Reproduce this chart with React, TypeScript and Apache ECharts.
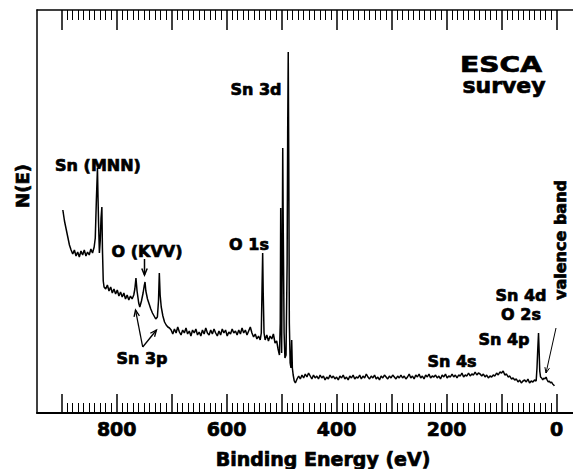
import React, { useEffect, useRef } from "react";
import * as echarts from "echarts";

// Binding energy (eV), intensity N(E) (arbitrary units)
const spectrum: [number, number][] = [
  [898, 203], [895, 192], [892, 184], [889, 176], [886, 168], [883, 163], [880, 159], [877, 163], [874, 157], [871, 161],
  [868, 156], [865, 162], [862, 158], [859, 163], [856, 157], [853, 161], [850, 158], [847, 164], [844, 160], [841, 166],
  [839, 175], [837, 213], [835, 245], [834, 215], [833, 190], [831.5, 160], [830, 172], [828.5, 195], [827, 206], [826, 165],
  [824.5, 132], [823, 126], [820, 124], [817, 128], [814, 122], [811, 126], [808, 120], [805, 124], [802, 119], [799, 123],
  [796, 117], [793, 121], [790, 116], [787, 120], [784, 114], [781, 118], [778, 113], [775, 117], [772, 114],
  [769, 118], [767, 124], [765, 135], [763, 122], [760, 110], [758, 106], [755, 112], [752, 120], [750, 127], [748.5, 131],
  [747, 122], [744, 114], [741, 109], [738, 104], [735, 100], [732, 97], [729, 94], [726, 96], [724, 112], [722.5, 140],
  [721, 118], [719, 106], [716, 97], [713, 91], [710, 88], [707, 86], [704, 85],
  [701, 83], [698, 79], [695, 84], [692, 80], [689, 86], [686, 81], [683, 78], [680, 83], [677, 80], [674, 85],
  [671, 79], [668, 82], [665, 77], [662, 83], [659, 80], [656, 84], [653, 78], [650, 81], [647, 77], [644, 83],
  [641, 79], [638, 85], [635, 80], [632, 78], [629, 83], [626, 79], [623, 84], [620, 80], [617, 77], [614, 82],
  [611, 78], [608, 84], [605, 80], [602, 83], [599, 77], [596, 81], [593, 79], [590, 84], [587, 80], [584, 82],
  [581, 78], [578, 83], [575, 79], [572, 85], [569, 80], [566, 83], [563, 78], [560, 82], [557, 86], [554, 80],
  [551, 76], [548, 79], [545, 74], [542, 77], [539, 73], [537, 80], [535.5, 130], [534.5, 160], [533.5, 120], [532, 80],
  [530, 73], [527, 78], [524, 72], [521, 77], [518, 74], [515, 79], [512, 70], [509, 72], [506.5, 64], [504, 58],
  [502.5, 90], [501.7, 205], [501, 120], [500, 60], [499, 150], [498, 265], [497, 180], [495.5, 80], [494, 55], [492, 58],
  [490, 150], [489, 280], [488, 361], [487, 250], [486, 90], [484.5, 50], [483, 45], [481.7, 73], [480.5, 45], [479, 38],
  [477, 32], [475, 30], [472, 34],
  [469, 37], [466, 34], [463, 38], [460, 35], [457, 39], [454, 36], [451, 40], [448, 37], [445, 34], [442, 38],
  [439, 35], [436, 37], [433, 34], [430, 38], [427, 35], [424, 37], [421, 33], [418, 36], [415, 34], [412, 38],
  [409, 35], [406, 37], [403, 34], [400, 36], [397, 33], [394, 37], [391, 35], [388, 38], [385, 34], [382, 36],
  [379, 33], [376, 37], [373, 35], [370, 38], [367, 34], [364, 36], [361, 35], [358, 38], [355, 34], [352, 37],
  [349, 35], [346, 39], [343, 36], [340, 34], [337, 37], [334, 35], [331, 38], [328, 34], [325, 36], [322, 33],
  [319, 37], [316, 35], [313, 38], [310, 36], [307, 34], [304, 37], [301, 35], [298, 38], [295, 36], [292, 34],
  [289, 37], [286, 35], [283, 38], [280, 35], [277, 37], [274, 34], [271, 36], [268, 39], [265, 35], [262, 37],
  [259, 34], [256, 38], [253, 36], [250, 39], [247, 35], [244, 37], [241, 34], [238, 38], [235, 36], [232, 39],
  [229, 35], [226, 37], [223, 36], [220, 38], [217, 35], [214, 37], [211, 34], [208, 38], [205, 36], [202, 39],
  [199, 35], [196, 37], [193, 36], [190, 39], [187, 36], [184, 38], [181, 35], [178, 38], [175, 37], [172, 40],
  [169, 36], [166, 38], [163, 37], [160, 40], [157, 37], [154, 39], [151, 38], [148, 41], [145, 38], [142, 40],
  [139, 39], [136, 37], [133, 39], [130, 36], [127, 38], [124, 35], [121, 37], [118, 36], [115, 38], [112, 37],
  [109, 40], [106, 38], [103, 41], [100, 40], [97, 42], [94, 38], [91, 39], [88, 36], [85, 37], [82, 34],
  [79, 35], [76, 33], [73, 34], [70, 31], [67, 33], [64, 30], [61, 32], [58, 33], [55, 31], [52, 34],
  [49, 30], [46, 32], [43, 31], [40, 33], [37, 32], [35.5, 45], [34, 65], [32.7, 80], [31.5, 60], [30.5, 42],
  [29, 36], [27, 35], [25, 33], [23, 35], [21, 34], [19, 36], [17, 33], [15, 31], [13, 32], [11, 30],
  [9, 31], [7, 29], [5, 28], [4, 27],
];

const majorTicks = [0, 100, 200, 300, 400, 500, 600, 700, 800, 900];
const tickLabels = [0, 200, 400, 600, 800];
const MINOR_STEP = 10;
const minorTicks: number[] = [];
for (let v = MINOR_STEP; v < 900; v += MINOR_STEP) if (v % 100 !== 0) minorTicks.push(v);

const X_MIN = -30;
const X_MAX = 945;
const Y_MIN = 0;
const Y_MAX = 403;

const FONT = "'DejaVu Sans', sans-serif";

function txt(text: string, x: number, y: number, size = 16, extra: any = {}) {
  return {
    type: "text",
    x,
    y,
    ...extra,
    style: {
      text,
      fill: "#000",
      stroke: "#000",
      lineWidth: 0.7,
      font: `bold ${size}px ${FONT}`,
      align: "center",
      verticalAlign: "middle",
      textAlign: "center",
      textVerticalAlign: "middle",
    },
  };
}

function arrow(x1: number, y1: number, x2: number, y2: number, head = 7, width = 1.5) {
  const ang = Math.atan2(y2 - y1, x2 - x1);
  const a1 = ang + Math.PI - 0.4;
  const a2 = ang + Math.PI + 0.4;
  return {
    type: "group",
    children: [
      { type: "line", shape: { x1, y1, x2, y2 }, style: { stroke: "#000", lineWidth: width } },
      {
        type: "polyline",
        shape: {
          points: [
            [x2 + head * Math.cos(a1), y2 + head * Math.sin(a1)],
            [x2, y2],
            [x2 + head * Math.cos(a2), y2 + head * Math.sin(a2)],
          ],
        },
        style: { stroke: "#000", lineWidth: width, fill: null },
      },
    ],
  };
}

export default function App() {
  const ref = useRef<HTMLDivElement>(null);
  useEffect(() => {
    if (!ref.current) return;
    const chart = echarts.init(ref.current, null, { renderer: "svg" });
    const baseX = {
      type: "value",
      min: X_MIN,
      max: X_MAX,
      inverse: true,
      gridIndex: 0,
      splitLine: { show: false },
    };
    const option: any = {
      animation: false,
      backgroundColor: "#fff",
      grid: { left: 37, right: 0, top: 10, bottom: 56, containLabel: false, outerBoundsMode: "none" },
      xAxis: [
        {
          ...baseX,
          position: "bottom",
          axisLine: { show: true, onZero: false, lineStyle: { color: "#000", width: 2 } },
          axisTick: { show: true, inside: true, length: 19, customValues: majorTicks, lineStyle: { color: "#000", width: 1.5 } },
          axisLabel: {
            show: true,
            customValues: tickLabels,
            margin: 6,
            color: "#000",
            fontFamily: FONT,
            fontWeight: "bold",
            fontSize: 19,
            textBorderColor: "#000",
            textBorderWidth: 0.7,
          },
        },
        {
          ...baseX,
          position: "bottom",
          axisLine: { show: false, onZero: false },
          axisTick: { show: true, inside: true, length: 10, customValues: minorTicks, lineStyle: { color: "#000", width: 1 } },
          axisLabel: { show: false },
        },
        {
          ...baseX,
          position: "top",
          axisLine: { show: true, onZero: false, lineStyle: { color: "#000", width: 1.5 } },
          axisTick: { show: true, inside: true, length: 20, customValues: majorTicks, lineStyle: { color: "#000", width: 1.5 } },
          axisLabel: { show: false },
        },
        {
          ...baseX,
          position: "top",
          axisLine: { show: false, onZero: false },
          axisTick: { show: true, inside: true, length: 10, customValues: minorTicks, lineStyle: { color: "#000", width: 1 } },
          axisLabel: { show: false },
        },
      ],
      yAxis: {
        type: "value",
        min: Y_MIN,
        max: Y_MAX,
        axisLine: { show: true, onZero: false, lineStyle: { color: "#000", width: 1.5 } },
        axisTick: { show: false },
        axisLabel: { show: false },
        splitLine: { show: false },
      },
      series: [
        {
          type: "line",
          xAxisIndex: 0,
          yAxisIndex: 0,
          data: spectrum,
          showSymbol: false,
          symbol: "none",
          lineStyle: { color: "#000", width: 1.5 },
        },
      ],
      graphic: [
        txt("N(E)", 22, 186, 18, { rotation: Math.PI / 2 }),
        txt("Binding Energy (eV)", 323, 459, 19),
        txt("ESCA", 501, 65, 22, { scaleX: 1.28 }),
        txt("survey", 504, 85, 22),
        txt("Sn 3d", 256, 89),
        txt("Sn (MNN)", 98, 165),
        txt("O (KVV)", 147, 251),
        txt("O 1s", 249, 244),
        txt("Sn 3p", 142, 358),
        txt("Sn 4s", 452, 361),
        txt("Sn 4p", 504, 339),
        txt("Sn 4d", 521, 295.5),
        txt("O 2s", 521, 314.5),
        txt("valence band", 560, 240, 16, { rotation: Math.PI / 2 }),
        arrow(144.5, 259, 144.5, 275, 7, 1.5),
        arrow(142.7, 347, 135.5, 310, 7, 1.3),
        arrow(142.7, 347, 156.5, 330, 7, 1.3),
        arrow(556, 328, 546, 373, 6, 1),
      ],
    };
    chart.setOption(option);
    return () => chart.dispose();
  }, []);
  return <div ref={ref} style={{ position: "fixed", left: 0, top: 0, width: 573, height: 469 }} />;
}
